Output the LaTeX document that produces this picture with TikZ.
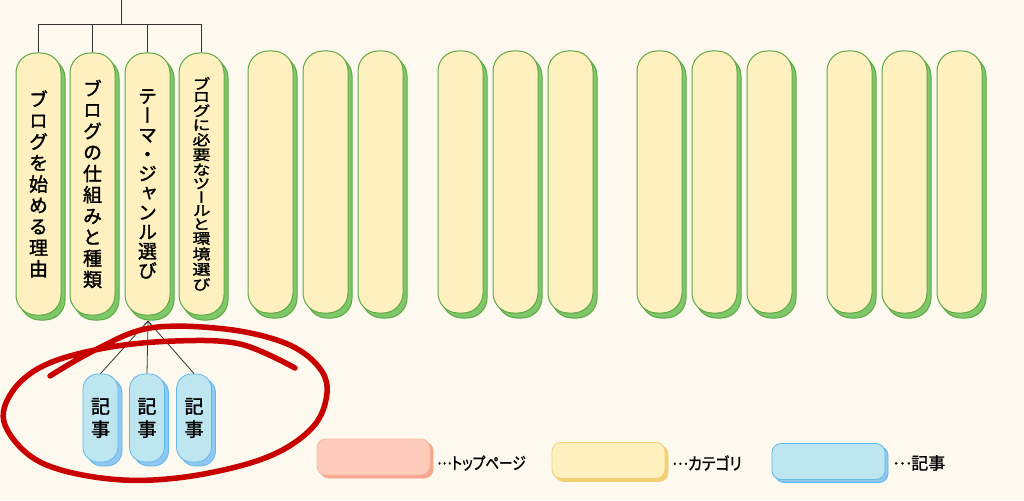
\documentclass[tikz,border=0pt]{standalone}
\usepackage{fontspec}
\setmainfont[FakeBold=1.6]{Noto Sans CJK JP}
\newfontfamily\tatefont[RawFeature=+vert, FakeBold=1.6]{Noto Sans CJK JP}
\newfontfamily\yokofont[RawFeature=+palt, FakeBold=1.2]{Noto Sans CJK JP}
\usetikzlibrary{arrows.meta,shadows}

\definecolor{paper}{HTML}{FDF9EF}
\definecolor{catfill}{HTML}{FFF0C0}
\definecolor{catline}{HTML}{5EA846}
\definecolor{catshade}{HTML}{7FC869}
\definecolor{artfill}{HTML}{BDE6F1}
\definecolor{artline}{HTML}{5DB8EC}
\definecolor{artshade}{HTML}{90C8F2}
\definecolor{topfill}{HTML}{FFCBBB}
\definecolor{topline}{HTML}{F4B8A6}
\definecolor{topshade}{HTML}{F6A68C}
\definecolor{keyfill}{HTML}{FFF0C0}
\definecolor{keyline}{HTML}{EFCF70}
\definecolor{keyshade}{HTML}{F3D276}
\definecolor{pen}{HTML}{C80000}

\tikzset{
  cat/.style={draw=catline, fill=catfill, line width=1pt, rounded corners=20pt,
    minimum width=45pt, minimum height=262pt, inner sep=0pt, align=center,
    font=\tatefont\fontsize{19}{21.2}\selectfont,
    drop shadow={shadow xshift=4pt, shadow yshift=-5pt, fill=catshade, draw=catline, opacity=1}},
  art/.style={draw=artline, fill=artfill, line width=0.8pt, rounded corners=15pt,
    minimum width=35pt, minimum height=88pt, inner sep=0pt, align=center,
    font=\tatefont\fontsize{19}{23}\selectfont,
    drop shadow={shadow xshift=4pt, shadow yshift=-4pt, fill=artshade, draw=artline, opacity=1}},
  key/.style={line width=0.8pt, rounded corners=9pt, minimum width=113pt,
    minimum height=36pt, inner sep=0pt},
  keytext/.style={anchor=west, inner sep=0pt, font=\yokofont\fontsize{17}{20}\selectfont},
  link/.style={draw=black!80, line width=0.8pt}
}
\newcommand{\middots}{\raisebox{0.3em}{…}}

\begin{document}
\begin{tikzpicture}[x=1pt,y=-1pt]
  \useasboundingbox (0,0) rectangle (1024,500);
  \fill[paper] (0,0) rectangle (1024,500);

  % categories with titles
  \node[cat] (c1) at (38.5,184) {ブ\\ロ\\グ\\を\\始\\め\\る\\理\\由};
  \node[cat] (c2) at (92.5,184) {ブ\\ロ\\グ\\の\\仕\\組\\み\\と\\種\\類};
  \node[cat, font=\tatefont\fontsize{19}{19.4}\selectfont] (c3) at (147.5,184)
    {テ\\ー\\マ\\・\\ジ\\ャ\\ン\\ル\\選\\び};
  \node[cat, font=\tatefont\fontsize{18}{18}\selectfont] (c4) at (201.5,184)
    {\scalebox{1}[0.8]{\shortstack{ブ\\ロ\\グ\\に\\必\\要\\な\\ツ\\ー\\ル\\と\\環\\境\\選\\び}}};

  % empty categories
  \foreach \x in {248,303,358,438,493,548,637,692,747,827,882,937}
    \node[cat] (e\x) at (\x+22.5,182) {};

  % top page link
  \coordinate (top) at (121,0);
  \coordinate (bar) at (121,24);
  \draw[link] (top) -- (bar);
  \foreach \c in {c1,c2,c3,c4}
    \draw[link] (\c.north) |- (bar);

  % articles
  \node[art] (a1) at (100.5,418) {記\\事};
  \node[art] (a2) at (147,418) {記\\事};
  \node[art] (a3) at (194,418) {記\\事};
  \coordinate (fork) at (148,321);
  \draw[link] (fork) -- (a1.north);
  \draw[link, {Straight Barb[length=3pt,width=7pt]}-] (fork) -- (a2.north);
  \draw[link] (fork) -- (a3.north);

  % red loop
  \draw[pen, line width=5.5pt, line cap=round, line join=round]
    plot[smooth, tension=0.6] coordinates {(50,376) (95,350) (150,328) (225,329)
      (285,343) (318,366) (327,393) (312,428) (265,458) (185,477) (110,479)
      (40,462) (5,425) (12,392) (45,365) (105,348) (175,341) (240,344) (295,368)};

  % legend
  \node[key, fill=topfill, draw=topline,
    drop shadow={shadow xshift=3pt, shadow yshift=-3pt, fill=topshade, draw=topshade, opacity=1}]
    (k1) at (373.5,457) {};
  \node[keytext] (t1) at (437,463) {\scalebox{0.8}[1]{\middots トップページ}};
  \node[key, fill=keyfill, draw=keyline,
    drop shadow={shadow xshift=3pt, shadow yshift=-3pt, fill=keyshade, draw=keyline, opacity=1}]
    (k2) at (608.5,460.5) {};
  \node[keytext] (t2) at (672,463) {\scalebox{0.88}[1]{\middots カテゴリ}};
  \node[key, fill=artfill, draw=artline,
    drop shadow={shadow xshift=3pt, shadow yshift=-3pt, fill=artshade, draw=artline, opacity=1}]
    (k3) at (828.5,461.5) {};
  \node[keytext] (t3) at (893,463) {\middots 記事};
\end{tikzpicture}
\end{document}
